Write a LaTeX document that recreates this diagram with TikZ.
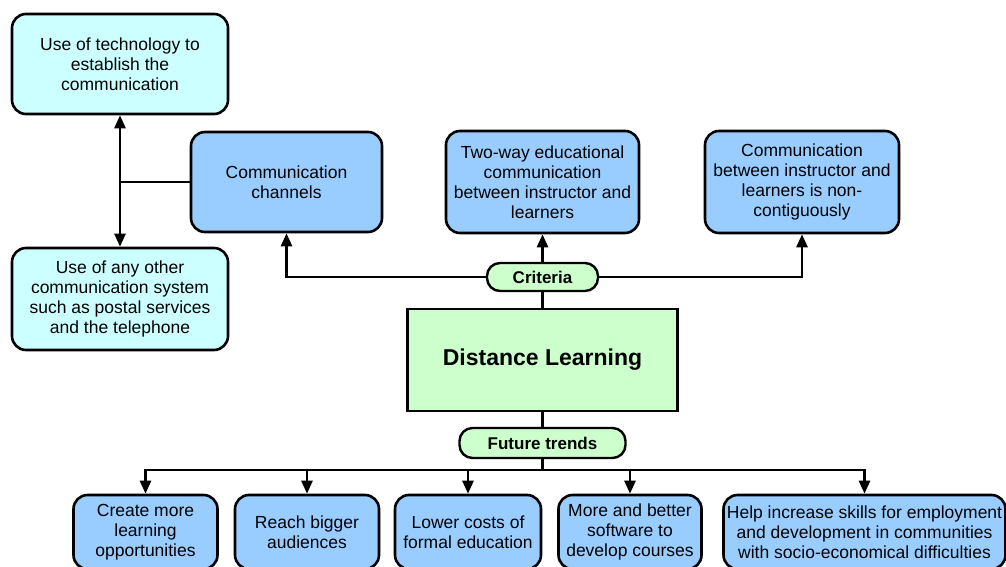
\documentclass[tikz,border=0pt]{standalone}
\usepackage{fontspec}
\setmainfont{Liberation Sans}
\usetikzlibrary{arrows.meta}
\definecolor{cyanbox}{HTML}{CCFFFF}
\definecolor{bluebox}{HTML}{99CCFF}
\definecolor{greenbox}{HTML}{CCFFCC}
\begin{document}
\begin{tikzpicture}[x=1pt,y=-1pt,
  basebox/.style={draw=black, line width=2.6pt, rounded corners=14pt, align=center, inner sep=1pt,
    font=\fontsize{17.5}{20}\selectfont},
  cbox/.style={basebox, fill=cyanbox},
  bbox/.style={basebox, fill=bluebox},
  pill/.style={draw=black, line width=2.4pt, rounded corners=13pt, fill=greenbox, align=center,
    inner sep=1pt, font=\fontsize{17}{20}\selectfont\bfseries},
  dlbox/.style={draw=black, line width=2.4pt, fill=greenbox, minimum width=270pt, minimum height=102pt,
    font=\fontsize{23}{26}\selectfont\bfseries},
  conn/.style={draw=black, line width=2.5pt},
  arr/.style={conn, -{Triangle[length=13pt,width=11pt]}},
  darr/.style={conn, {Triangle[length=13pt,width=11pt]}-{Triangle[length=13pt,width=11pt]}}
]
\useasboundingbox (0,0) rectangle (1006,567);

% top-left boxes
\node[cbox, minimum width=216pt, minimum height=100pt] (tech) at (120,64)
  {Use of technology to\\establish the\\communication};
\node[cbox, minimum width=216pt, minimum height=102pt] (other) at (120,299)
  {Use of any other\\communication system\\such as postal services\\and the telephone};

% criteria boxes
\node[bbox, minimum width=191pt, minimum height=100pt] (chan) at (286.5,182)
  {Communication\\channels};
\node[bbox, minimum width=193pt, minimum height=102pt] (two) at (542.5,182)
  {Two-way educational\\communication\\between instructor and\\learners};
\node[bbox, minimum width=194pt, minimum height=102pt] (non) at (802,182)
  {Communication\\between instructor and\\learners is non-\\contiguously};

% centre
\node[pill, minimum width=111pt, minimum height=28pt] (crit) at (542.5,277) {Criteria};
\node[dlbox] (dl) at (542.5,360) {Distance Learning};
\node[pill, minimum width=166pt, minimum height=30pt] (ft) at (542.5,443) {Future trends};

% bottom boxes
\node[bbox, minimum width=144pt, minimum height=74pt] (b1) at (145.5,532)
  {Create more\\learning\\opportunities};
\node[bbox, minimum width=144pt, minimum height=74pt] (b2) at (307,532)
  {Reach bigger\\audiences};
\node[bbox, minimum width=146pt, minimum height=74pt] (b3) at (468,532)
  {Lower costs of\\formal education};
\node[bbox, minimum width=143pt, minimum height=74pt] (b4) at (630,532)
  {More and better\\software to\\develop courses};
\node[bbox, minimum width=282pt, minimum height=74pt] (b5) at (864.5,532)
  {Help increase skills for employment\\and development in communities\\with socio-economical difficulties};

% connectors: communication channels
\coordinate (j1) at (chan.west -| tech.south);
\draw[darr] (tech.south) -- (other.north);
\draw[conn] (chan.west) -- (j1);

% criteria connectors
\draw[arr] (crit.west) -| (chan.south);
\draw[arr] (crit.east) -| (non.south);
\draw[arr] (crit.north) -- (two.south);
\draw[conn] (crit.south) -- (dl.north);

% future trends
\draw[conn] (dl.south) -- (ft.north);
\coordinate (br) at (542.5,470);
\draw[conn] (ft.south) -- (br);
\draw[arr] (br) -| (b1.north);
\draw[arr] (br) -| (b2.north);
\draw[arr] (br) -| (b3.north);
\draw[arr] (br) -| (b4.north);
\draw[arr] (br) -| (b5.north);
\end{tikzpicture}
\end{document}
